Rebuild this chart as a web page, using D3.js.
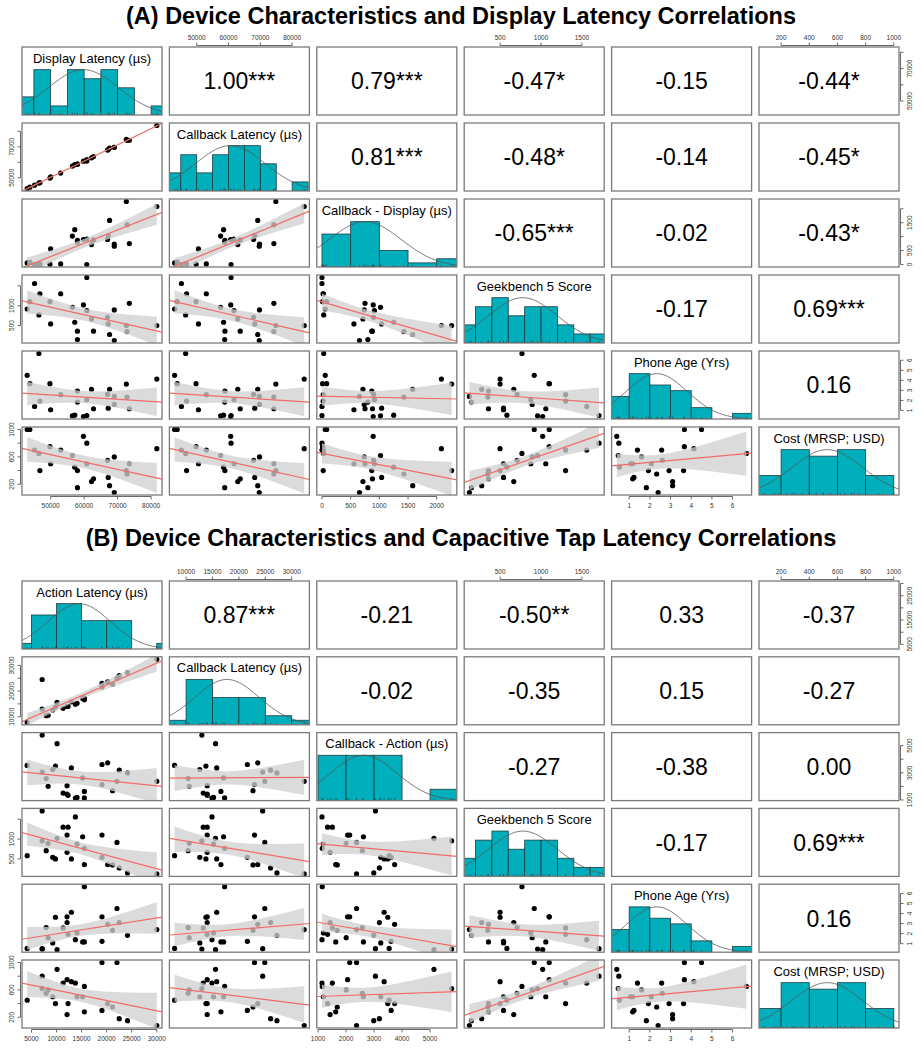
<!DOCTYPE html>
<html><head><meta charset="utf-8">
<script src="https://cdn.jsdelivr.net/npm/d3@7"></script>
<style>body{margin:0;background:#fff} text{font-family:"Liberation Sans",Arial,sans-serif}</style>
</head><body><svg id="c" width="923" height="1050"></svg>
<script>
// ---------- data (26 devices, same order in every array) ----------
const displayLatency = [43000, 43800, 45200, 46500, 46800, 49800, 50000, 53000, 56500, 57200, 58000, 58000, 59800, 60800, 60800, 62200, 62800, 67000, 67200, 67600, 69000, 69000, 72600, 72800, 73500, 81700];
const callbackLatencyA = [43057, 43882, 45200, 46530, 46821, 49810, 50557, 53021, 57520, 58450, 58868, 58800, 60693, 60800, 61714, 62914, 63680, 67900, 68240, 69182, 69736, 69654, 74860, 74228, 74250, 83782];
const callbackMinusDisplay = [57, 82, 0, 30, 21, 10, 557, 21, 1020, 1250, 868, 800, 893, 0, 914, 714, 880, 900, 1040, 1582, 736, 654, 2260, 1428, 750, 2082];
const geekbenchScore = [917, 1100, 1558, 767, 1300, 1100, 542, 1300, 958, 583, 358, 150, 1020, 1708, 875, 667, 358, 708, 542, 275, 892, 125, 500, 350, 1058, 500];
const phoneAgeYrs = [4.5, 3.67, 1.4, 6.67, 1.93, 3.67, 1.07, 2.57, 0.47, 0.53, 2.93, 1.83, 0.4, 0.5, 2.07, 3.1, 1.17, 2.6, 1.23, 3.1, 1.6, 2.4, 3.63, 2.33, 1.17, 4.13];
const costUSD = [1000, 1000, 700, 650, 400, 750, 500, 700, 620, 450, 400, 150, 900, 800, 500, 240, 280, 550, 300, 180, 600, 80, 400, 350, 500, 720];
const actionLatency = [22060, 19070, 13760, 15550, 12300, 12100, 9240, 11310, 7130, 4140, 20200, 24160, 10100, 7130, 14090, 12100, 15550, 7930, 19070, 22510, 8320, 30010, 9780, 21180, 15210, 12960];
const callbackLatencyB = [24900, 22950, 14900, 17300, 14000, 14000, 12600, 13250, 12990, 7830, 23570, 27200, 15580, 24500, 15200, 14000, 16600, 10400, 21600, 26000, 10600, 32360, 13760, 22670, 17100, 15800];
const callbackMinusAction = [2375, 2130, 1140, 1150, 1340, 2055, 3240, 1510, 5770, 3540, 3735, 2990, 5140, 3050, 1190, 1430, 1630, 2580, 3610, 3190, 2005, 2375, 3490, 1685, 2620, 3360];

// variable names (diagonal)
const namesA = ["Display Latency (µs)", "Callback Latency (µs)", "Callback - Display (µs)", "Geekbench 5 Score", "Phone Age (Yrs)", "Cost (MRSP; USD)"];
const namesB = ["Action Latency (µs)", "Callback Latency (µs)", "Callback - Action (µs)", "Geekbench 5 Score", "Phone Age (Yrs)", "Cost (MRSP; USD)"];

// correlation labels, upper triangle row by row
const corrA = ["1.00***", "0.79***", "-0.47*", "-0.15", "-0.44*", "0.81***", "-0.48*", "-0.14", "-0.45*", "-0.65***", "-0.02", "-0.43*", "-0.17", "0.69***", "0.16"];
const corrB = ["0.87***", "-0.21", "-0.50**", "0.33", "-0.37", "-0.02", "-0.35", "0.15", "-0.27", "-0.27", "-0.38", "0.00", "-0.17", "0.69***", "0.16"];

// histogram breaks
const breaksDL = [40000, 45000, 50000, 55000, 60000, 65000, 70000, 75000, 80000, 85000];
const breaksCLA = [40000, 45000, 50000, 55000, 60000, 65000, 70000, 75000, 80000, 85000];
const breaksCD = [0, 500, 1000, 1500, 2000, 2500];
const breaksGB = [0, 200, 400, 600, 800, 1000, 1200, 1400, 1600, 1800];
const breaksAge = [0, 1, 2, 3, 4, 5, 6, 7];
const breaksCost = [0, 200, 400, 600, 800, 1000];
const breaksAL = [0, 5000, 10000, 15000, 20000, 25000, 30000, 35000];
const breaksCLB = [5000, 10000, 15000, 20000, 25000, 30000, 35000];
const breaksCA = [1000, 2000, 3000, 4000, 5000, 6000];

// axis ticks: all ticks, labels on horizontal axis, labels on vertical axis
const ticksDL = [50000, 60000, 70000, 80000], xlabDL = [50000, 60000, 70000, 80000], ylabDL = [50000, 70000];
const ticksCLA = [50000, 60000, 70000, 80000], xlabCLA = [50000, 60000, 70000, 80000], ylabCLA = [50000, 70000];
const ticksCD = [0, 500, 1000, 1500, 2000], xlabCD = [0, 500, 1000, 1500, 2000], ylabCD = [0, 500, 1500];
const ticksGB = [500, 1000, 1500], xlabGB = [500, 1000, 1500], ylabGB = [500, 1000];
const ticksAge = [1, 2, 3, 4, 5, 6], xlabAge = [1, 2, 3, 4, 5, 6], ylabAge = [1, 2, 3, 4, 5, 6];
const ticksCost = [200, 400, 600, 800, 1000], xlabCost = [200, 400, 600, 800, 1000], ylabCost = [200, 600, 1000];
const ticksAL = [5000, 10000, 15000, 20000, 25000, 30000], xlabAL = [5000, 10000, 15000, 20000, 25000, 30000], ylabAL = [5000, 15000, 25000];
const ticksCLB = [10000, 15000, 20000, 25000, 30000], xlabCLB = [10000, 15000, 20000, 25000, 30000], ylabCLB = [10000, 20000, 30000];
const ticksCA = [1000, 2000, 3000, 4000, 5000], xlabCA = [1000, 2000, 3000, 4000, 5000], ylabCA = [1000, 3000, 5000];

// ---------- drawing ----------
const svg = d3.select("#c");
const defs = svg.append("defs");
const W = 140, H = 68;
const colX = j => 22 + j * 147.4;
const T975 = 2.0639; // t quantile, df = 24

function ext4(v) { const [a, b] = d3.extent(v); const r = b - a; return [a - 0.04 * r, b + 0.04 * r]; }

function lmFit(x, y) {
  const n = x.length, mx = d3.mean(x), my = d3.mean(y);
  let sxx = 0, sxy = 0;
  for (let k = 0; k < n; k++) { sxx += (x[k] - mx) ** 2; sxy += (x[k] - mx) * (y[k] - my); }
  const b = sxy / sxx, a = my - b * mx;
  let sse = 0;
  for (let k = 0; k < n; k++) sse += (y[k] - a - b * x[k]) ** 2;
  return { a, b, mx, sxx, n, s: Math.sqrt(sse / (n - 2)) };
}

let clipId = 0;
function drawPanel(P) {
  const g = svg.append("g");
  const rowY = i => P.top + i * P.step;
  const n = P.vars.length;
  g.append("text").attr("x", 461).attr("y", P.titleY).attr("text-anchor", "middle")
    .attr("font-weight", "bold").attr("font-size", 23.5).attr("fill", "#000").text(P.title);
  const xs = P.vars.map((v, j) => d3.scaleLinear().domain(ext4(v.values)).range([colX(j), colX(j) + W]));
  const ys = P.vars.map((v, i) => d3.scaleLinear().domain(ext4(v.values)).range([rowY(i) + H, rowY(i)]));
  let ci = 0;
  for (let i = 0; i < n; i++) {
    for (let j = 0; j < n; j++) {
      const x0 = colX(j), y0 = rowY(i);
      const id = "clip" + (clipId++);
      defs.append("clipPath").attr("id", id).append("rect").attr("x", x0).attr("y", y0).attr("width", W).attr("height", H);
      const cell = g.append("g");
      const inner = cell.append("g").attr("clip-path", `url(#${id})`);
      if (i === j) {
        const v = P.vars[i], br = v.breaks, vals = v.values;
        const counts = br.slice(0, -1).map((b, k) => vals.filter(x => (k === 0 ? x >= b : x > b) && x <= br[k + 1]).length);
        const mx = d3.max(counts);
        const hy = d3.scaleLinear().domain([0, 1.5]).range([y0 + H, y0]);
        const sx = xs[j];
        inner.selectAll("rect.bar").data(counts).join("rect").attr("class", "bar")
          .attr("x", (c, k) => sx(br[k])).attr("width", (c, k) => sx(br[k + 1]) - sx(br[k]))
          .attr("y", c => hy(c / mx)).attr("height", c => hy(0) - hy(c / mx))
          .attr("fill", "#00AFBB").attr("stroke", "#1c3d42").attr("stroke-width", 0.8);
        const m = d3.mean(vals), s = d3.deviation(vals);
        const dom = sx.domain();
        const xsG = d3.range(0, 101).map(k => dom[0] + (dom[1] - dom[0]) * k / 100);
        inner.append("path").attr("d", d3.line().x(x => sx(x)).y(x => hy(Math.exp(-0.5 * ((x - m) / s) ** 2)))(xsG))
          .attr("fill", "none").attr("stroke", "#555").attr("stroke-width", 0.8);
        inner.selectAll("line.rug").data(vals).join("line").attr("class", "rug")
          .attr("x1", d => sx(d)).attr("x2", d => sx(d)).attr("y1", y0 + H).attr("y2", y0 + H - 2.2)
          .attr("stroke", "#333").attr("stroke-width", 0.6);
        cell.append("text").attr("x", x0 + W / 2).attr("y", y0 + 15.5).attr("text-anchor", "middle")
          .attr("font-size", 13).attr("fill", "#000").text(v.name);
      } else if (i < j) {
        const lab = P.corr[ci++];
        cell.append("text").attr("x", x0 + W / 2).attr("y", y0 + H / 2 + 8.3).attr("text-anchor", "middle")
          .attr("font-size", 23).attr("fill", "#000").text(lab);
      } else {
        const xv = P.vars[j].values, yv = P.vars[i].values, sx = xs[j], sy = ys[i];
        inner.selectAll("circle").data(xv).join("circle")
          .attr("cx", (d) => sx(d)).attr("cy", (d, k) => sy(yv[k])).attr("r", 2.6).attr("fill", "#000");
        const f = lmFit(xv, yv);
        const [mn, mxv] = d3.extent(xv);
        const grid = d3.range(0, 81).map(k => mn + (mxv - mn) * k / 80);
        const se = x => f.s * Math.sqrt(1 / f.n + (x - f.mx) ** 2 / f.sxx);
        inner.append("path").attr("d", d3.area().x(x => sx(x))
            .y0(x => sy(f.a + f.b * x - T975 * se(x))).y1(x => sy(f.a + f.b * x + T975 * se(x)))(grid))
          .attr("fill", "#d0d0d0").attr("fill-opacity", 0.77);
        const dom = sx.domain();
        inner.append("line").attr("x1", sx(dom[0])).attr("x2", sx(dom[1]))
          .attr("y1", sy(f.a + f.b * dom[0])).attr("y2", sy(f.a + f.b * dom[1]))
          .attr("stroke", "#f46a6a").attr("stroke-width", 1.2);
      }
      cell.append("rect").attr("x", x0).attr("y", y0).attr("width", W).attr("height", H)
        .attr("fill", "none").attr("stroke", "#7a7a7a").attr("stroke-width", 1.3);
    }
  }
  // axes
  const axCol = "#444", fs = 6.5;
  for (let j = 0; j < n; j++) {
    const v = P.vars[j], sx = xs[j];
    const top = (j % 2 === 1);
    const yb = top ? rowY(0) - 1.5 : rowY(n - 1) + H + 1.5;
    const dir = top ? -1 : 1;
    const ax = g.append("g");
    ax.append("line").attr("x1", sx(v.ticks[0])).attr("x2", sx(v.ticks[v.ticks.length - 1]))
      .attr("y1", yb).attr("y2", yb).attr("stroke", axCol).attr("stroke-width", 0.8);
    ax.selectAll("line.t").data(v.ticks).join("line").attr("class", "t")
      .attr("x1", d => sx(d)).attr("x2", d => sx(d)).attr("y1", yb).attr("y2", yb + dir * 3)
      .attr("stroke", axCol).attr("stroke-width", 0.8);
    ax.selectAll("text").data(v.xlab).join("text").attr("x", d => sx(d))
      .attr("y", top ? yb - 6 : yb + 11).attr("text-anchor", "middle").attr("font-size", fs).attr("fill", "#333").text(d => d);
  }
  for (let i = 0; i < n; i++) {
    const v = P.vars[i], sy = ys[i];
    const left = (i % 2 === 1);
    const xb = left ? colX(0) - 1.5 : colX(n - 1) + W + 1.5;
    const dir = left ? -1 : 1;
    const ax = g.append("g");
    ax.append("line").attr("y1", sy(v.ticks[0])).attr("y2", sy(v.ticks[v.ticks.length - 1]))
      .attr("x1", xb).attr("x2", xb).attr("stroke", axCol).attr("stroke-width", 0.8);
    ax.selectAll("line.t").data(v.ticks).join("line").attr("class", "t")
      .attr("y1", d => sy(d)).attr("y2", d => sy(d)).attr("x1", xb).attr("x2", xb + dir * 3)
      .attr("stroke", axCol).attr("stroke-width", 0.8);
    const tx = left ? xb - 6.5 : xb + 11.5;
    ax.selectAll("text").data(v.ylab).join("text")
      .attr("transform", d => `translate(${tx},${sy(d)}) rotate(-90)`)
      .attr("text-anchor", "middle").attr("font-size", fs).attr("fill", "#333").text(d => d);
  }
}

const varsA = [
  { name: namesA[0], values: displayLatency, breaks: breaksDL, ticks: ticksDL, xlab: xlabDL, ylab: ylabDL },
  { name: namesA[1], values: callbackLatencyA, breaks: breaksCLA, ticks: ticksCLA, xlab: xlabCLA, ylab: ylabCLA },
  { name: namesA[2], values: callbackMinusDisplay, breaks: breaksCD, ticks: ticksCD, xlab: xlabCD, ylab: ylabCD },
  { name: namesA[3], values: geekbenchScore, breaks: breaksGB, ticks: ticksGB, xlab: xlabGB, ylab: ylabGB },
  { name: namesA[4], values: phoneAgeYrs, breaks: breaksAge, ticks: ticksAge, xlab: xlabAge, ylab: ylabAge },
  { name: namesA[5], values: costUSD, breaks: breaksCost, ticks: ticksCost, xlab: xlabCost, ylab: ylabCost }
];
const varsB = [
  { name: namesB[0], values: actionLatency, breaks: breaksAL, ticks: ticksAL, xlab: xlabAL, ylab: ylabAL },
  { name: namesB[1], values: callbackLatencyB, breaks: breaksCLB, ticks: ticksCLB, xlab: xlabCLB, ylab: ylabCLB },
  { name: namesB[2], values: callbackMinusAction, breaks: breaksCA, ticks: ticksCA, xlab: xlabCA, ylab: ylabCA },
  { name: namesB[3], values: geekbenchScore, breaks: breaksGB, ticks: ticksGB, xlab: xlabGB, ylab: ylabGB },
  { name: namesB[4], values: phoneAgeYrs, breaks: breaksAge, ticks: ticksAge, xlab: xlabAge, ylab: ylabAge },
  { name: namesB[5], values: costUSD, breaks: breaksCost, ticks: ticksCost, xlab: xlabCost, ylab: ylabCost }
];

drawPanel({ title: "(A) Device Characteristics and Display Latency Correlations", titleY: 23.5, top: 47, step: 76, vars: varsA, corr: corrA });
drawPanel({ title: "(B) Device Characteristics and Capacitive Tap Latency Correlations", titleY: 545.5, top: 581, step: 75.8, vars: varsB, corr: corrB });
</script></body></html>
